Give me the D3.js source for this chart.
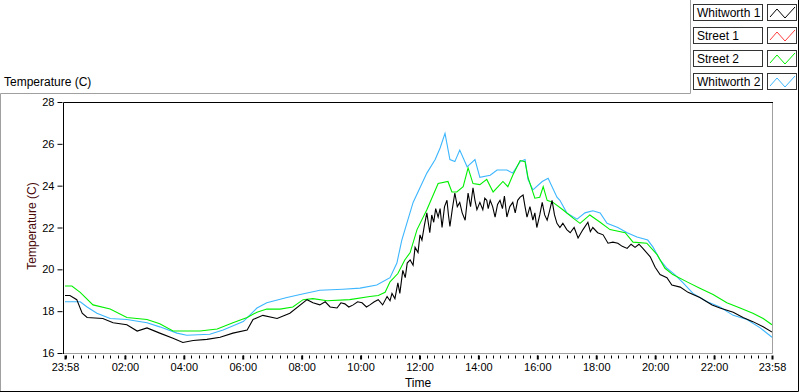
<!DOCTYPE html>
<meta charset="utf-8">
<style>
  body { margin: 0; background: #fff; }
  svg { display: block; font-family: "Liberation Sans", Arial, sans-serif; }
  .tick text { font-size: 11px; fill: #000; }
</style>
<body>
<svg width="800" height="392"></svg>
<script src="https://d3js.org/d3.v7.min.js"></script>
<script>

// series names as in the legend, and the plot colours
var seriesNames = ["Whitworth 1", "Street 1", "Street 2", "Whitworth 2"];
var seriesColors = ["#000000", "#ff3c3c", "#00f000", "#3cb6ff"];

// y ticks (degrees C)
var yTicks = [16, 18, 20, 22, 24, 26, 28];

// x axis is minutes from midnight, running from 23:58 the day before to 23:58
var xStart = -2, xEnd = 1438;
var xMajor = [-2, 120, 240, 360, 480, 600, 720, 840, 960, 1080, 1200, 1320, 1438];
var xLabels = ["23:58", "02:00", "04:00", "06:00", "08:00", "10:00", "12:00",
               "14:00", "16:00", "18:00", "20:00", "22:00", "23:58"];

// [minute, temperature]
var whitworth1 = [
  [-2,18.75],[8,18.75],[22,18.55],[33,17.9],[43,17.7],[75,17.65],[96,17.45],[124,17.35],
  [145,17.05],[165,17.2],[191,16.95],[218,16.7],[238,16.5],[259,16.6],[287,16.65],[314,16.75],
  [340,16.95],[369,17.1],[381,17.6],[401,17.8],[430,17.65],[456,17.9],[491,18.55],[503,18.4],
  [517,18.3],[528,18.45],[538,18.2],[552,18.15],[560,18.4],[568,18.35],[576,18.2],[585,18.3],
  [594,18.45],[603,18.4],[612,18.2],[619,18.3],[628,18.45],[636,18.55],[645,18.3],[654,18.7],
  [660,18.5],[664,18.85],[670,18.6],[676,19.35],[680,18.85],[686,19.95],[691,19.6],[695,20.3],
  [701,20.45],[707,20.2],[711,21.05],[717,20.8],[721,21.65],[725,21.4],[730,22.1],[735,22.7],
  [741,21.75],[745,22.6],[749,22.25],[753,22.9],[758,22.5],[762,22.9],[766,22.0],[771,23.0],
  [776,23.3],[779,22.6],[782,22.05],[787,22.9],[792,23.65],[797,23.0],[802,23.2],[807,22.7],
  [813,22.35],[819,23.65],[824,23.0],[829,23.9],[833,23.3],[837,22.85],[843,23.2],[849,22.85],
  [853,23.4],[857,23.3],[860,22.9],[864,23.3],[869,23.0],[874,22.5],[879,23.1],[884,23.3],
  [889,22.9],[893,23.5],[898,22.5],[904,23.0],[910,23.2],[915,22.7],[920,23.3],[925,23.45],
  [931,23.55],[935,23.0],[939,22.5],[945,23.0],[951,22.35],[955,22.7],[959,22.0],[965,22.6],
  [970,23.2],[975,22.6],[980,22.35],[985,22.8],[990,23.3],[995,22.6],[1000,22.2],[1006,22.0],
  [1012,22.2],[1020,21.9],[1027,21.75],[1035,22.0],[1043,21.5],[1053,21.9],[1063,22.25],
  [1068,21.8],[1073,22.0],[1083,21.75],[1094,21.65],[1104,21.25],[1114,21.3],[1124,21.25],
  [1133,21.1],[1143,21.0],[1151,21.2],[1159,21.05],[1167,21.2],[1175,21.0],[1190,20.6],
  [1200,20.1],[1210,19.75],[1224,19.6],[1234,19.25],[1251,19.15],[1267,18.9],[1291,18.65],
  [1316,18.3],[1332,18.15],[1359,17.95],[1379,17.7],[1399,17.5],[1420,17.25],[1438,17.0]
];

var street1 = [];  // listed in the legend, no trace drawn

var street2 = [
  [-2,19.2],[12,19.2],[29,18.9],[55,18.3],[90,18.1],[124,17.7],[165,17.6],[191,17.4],
  [218,17.05],[273,17.05],[308,17.15],[340,17.45],[369,17.7],[389,17.95],[409,18.1],[436,18.1],
  [462,18.2],[483,18.55],[503,18.6],[532,18.5],[578,18.55],[619,18.7],[636,18.75],[650,18.9],
  [660,19.4],[676,19.8],[690,20.45],[701,20.8],[715,21.9],[735,22.85],[758,24.1],[778,24.2],
  [786,23.7],[796,23.7],[809,23.95],[819,24.85],[829,24.1],[843,24.05],[857,24.3],[870,23.7],
  [890,24.2],[900,23.95],[910,24.5],[925,25.2],[935,25.15],[941,24.4],[955,23.4],[965,23.45],
  [972,23.95],[980,23.3],[992,23.2],[1012,22.85],[1033,22.45],[1047,22.2],[1067,22.6],
  [1088,22.25],[1108,21.9],[1139,21.75],[1155,21.3],[1183,21.25],[1204,20.7],[1220,20.05],
  [1236,19.75],[1265,19.4],[1291,19.1],[1318,18.8],[1346,18.4],[1373,18.15],[1399,17.9],
  [1420,17.65],[1438,17.35]
];

var whitworth2 = [
  [-2,18.45],[29,18.45],[43,18.2],[63,17.9],[90,17.65],[124,17.6],[165,17.45],[191,17.25],
  [226,16.95],[246,16.85],[293,16.9],[320,17.1],[361,17.5],[389,18.15],[409,18.4],[450,18.65],
  [477,18.8],[517,19.0],[564,19.05],[599,19.1],[633,19.25],[660,19.6],[674,20.3],[684,21.4],
  [707,23.2],[735,24.6],[752,25.25],[762,25.8],[772,26.5],[782,25.25],[792,25.15],[802,25.7],
  [817,24.9],[833,25.25],[843,24.4],[864,24.5],[878,24.75],[898,24.75],[910,24.6],[925,25.15],
  [935,25.25],[941,24.3],[951,23.8],[970,24.2],[982,24.35],[1000,23.45],[1006,23.3],[1020,22.7],
  [1041,22.4],[1057,22.7],[1073,22.8],[1088,22.7],[1102,22.2],[1124,22.0],[1143,21.75],
  [1163,21.55],[1185,21.4],[1196,21.05],[1210,20.45],[1224,20.05],[1240,19.75],[1257,19.35],
  [1277,18.85],[1306,18.45],[1332,18.2],[1359,17.8],[1387,17.6],[1414,17.2],[1438,16.75]
];

var seriesData = [whitworth1, street1, street2, whitworth2];

var svg = d3.select("svg");

// plot area edges (px)
var plotL = 64, plotR = 772, plotT = 102, plotB = 353;

var x = d3.scaleLinear().domain([xStart, xEnd]).range([plotL + 1, plotR]);
var y = d3.scaleLinear().domain([16, 28]).range([plotB, plotT]);

// outer frame (grey top/left, black right/bottom), legend panel notched out top-right
svg.append("path")
    .attr("d", "M0.5,391 V93.5 H690.5 V0")
    .attr("fill", "none").attr("stroke", "#a0a0a0");
svg.append("path")
    .attr("d", "M798.5,0 V391.5 H0")
    .attr("fill", "none").attr("stroke", "#000");

svg.append("text")
    .attr("x", 4).attr("y", 86)
    .attr("font-size", 12)
    .text("Temperature (C)");

// plot box
svg.append("path")
    .attr("d", "M" + (plotR + 0.5) + "," + plotT + " V" + (plotB + 0.5) + " H" + plotL)
    .attr("fill", "none").attr("stroke", "#a0a0a0");
svg.append("path")
    .attr("d", "M" + (plotL - 0.5) + "," + (plotB + 1) + " V" + (plotT + 0.5) + " H" + (plotR + 1))
    .attr("fill", "none").attr("stroke", "#000");

// y axis
var yAxis = svg.append("g")
    .attr("transform", "translate(" + (plotL - 1.5) + ",0)")
    .call(d3.axisLeft(y).tickValues(yTicks).tickSize(5).tickPadding(3).tickFormat(d3.format("d")));
yAxis.select(".domain").remove();
yAxis.selectAll(".tick line").attr("stroke", "#000");
yAxis.selectAll(".tick text").attr("font-size", 12);

svg.append("text")
    .attr("transform", "translate(36,226) rotate(-90)")
    .attr("text-anchor", "middle")
    .attr("font-size", 12)
    .attr("fill", "#4a0a0a")
    .text("Temperature (C)");

// x axis: minor ticks every 15 minutes, majors labelled
var minor = d3.range(0, 1440, 15);
svg.append("g")
    .attr("transform", "translate(0," + (plotB + 1.5) + ")")
    .selectAll("line").data(minor).join("line")
    .attr("x1", function(d) { return Math.round(x(d)) + 0.5; })
    .attr("x2", function(d) { return Math.round(x(d)) + 0.5; })
    .attr("y1", 1).attr("y2", 4)
    .attr("stroke", "#000");

var xAxis = svg.append("g")
    .attr("transform", "translate(0," + (plotB + 1.5) + ")")
    .call(d3.axisBottom(x).tickValues(xMajor).tickSize(5).tickPadding(4)
      .tickFormat(function(d, i) { return xLabels[i]; }));
xAxis.select(".domain").remove();
xAxis.selectAll(".tick line").attr("stroke", "#000").attr("y1", 1).attr("stroke-width", 2);
xAxis.selectAll(".tick text").attr("font-size", 12);

svg.append("text")
    .attr("x", (plotL + plotR) / 2).attr("y", 387)
    .attr("text-anchor", "middle")
    .attr("font-size", 12)
    .text("Time");

// traces
svg.append("clipPath").attr("id", "plotclip")
  .append("rect").attr("x", plotL).attr("y", plotT + 1)
    .attr("width", plotR - plotL).attr("height", plotB - plotT - 1);

var line = d3.line()
    .x(function(d) { return x(d[0]); })
    .y(function(d) { return y(d[1]); });

var drawOrder = [3, 2, 1, 0];
var traces = svg.append("g").attr("clip-path", "url(#plotclip)");
drawOrder.forEach(function(i) {
  if (!seriesData[i].length) return;
  traces.append("path")
      .datum(seriesData[i])
      .attr("d", line)
      .attr("fill", "none")
      .attr("stroke", seriesColors[i])
      .attr("stroke-width", 1.1)
      .attr("stroke-linejoin", "miter");
});

// legend, top right
var legend = svg.append("g");
seriesNames.forEach(function(name, i) {
  var ty = 4 + i * 23;
  legend.append("rect")
      .attr("x", 693.5).attr("y", ty + 0.5).attr("width", 69).attr("height", 16)
      .attr("fill", "#fff").attr("stroke", "#333");
  legend.append("text")
      .attr("x", 697).attr("y", ty + 13)
      .attr("font-size", 12)
      .text(name);
  legend.append("rect")
      .attr("x", 767.5).attr("y", ty + 0.5).attr("width", 29).attr("height", 16)
      .attr("fill", "#fff").attr("stroke", "#333");
  legend.append("path")
      .attr("d", "M" + 770 + "," + (ty + 13) + " L777," + (ty + 5) + " L785," + (ty + 14) + " L795," + (ty + 3))
      .attr("fill", "none")
      .attr("stroke", seriesColors[i])
      .attr("stroke-width", 1);
});

</script>
</body>
